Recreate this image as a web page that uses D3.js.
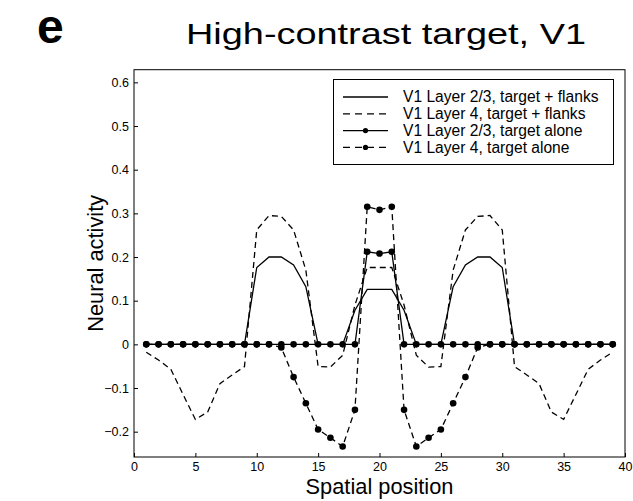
<!DOCTYPE html>
<html>
<head>
<meta charset="utf-8">
<script src="https://cdn.jsdelivr.net/npm/d3@7"></script>
<style>
  html, body { margin: 0; padding: 0; background: #fff; }
  svg { display: block; }
  text { font-family: "Liberation Sans", Arial, Helvetica, sans-serif; fill: #000; }
</style>
</head>
<body>
<svg id="chart" width="633" height="501"></svg>
<script>
// Spatial positions 1..39
const positions = d3.range(1, 40);

// V1 Layer 2/3, target + flanks
const l23Flanks = [
  0, 0, 0, 0, 0, 0, 0, 0, 0,
  0.176, 0.200, 0.200, 0.182, 0.132, 0, 0, 0,
  0.078, 0.126, 0.126, 0.126, 0.078,
  0, 0, 0,
  0.132, 0.182, 0.200, 0.200, 0.176,
  0, 0, 0, 0, 0, 0, 0, 0, 0
];

// V1 Layer 4, target + flanks
const l4Flanks = [
  -0.018, -0.036, -0.057, -0.115, -0.172, -0.155, -0.090, -0.070, -0.051,
  0.262, 0.295, 0.293, 0.262, 0.170,
  -0.051, -0.052, -0.025,
  0.090, 0.176, 0.176, 0.176, 0.090,
  -0.025, -0.052, -0.051,
  0.170, 0.262, 0.293, 0.295, 0.262,
  -0.051, -0.070, -0.090, -0.155, -0.172, -0.115, -0.057, -0.036, -0.018
];

// V1 Layer 2/3, target alone
const l23Alone = [
  0, 0, 0, 0, 0, 0, 0, 0, 0, 0, 0, 0, 0, 0, 0, 0, 0, 0,
  0.212, 0.208, 0.212,
  0, 0, 0, 0, 0, 0, 0, 0, 0, 0, 0, 0, 0, 0, 0, 0, 0, 0
];

// V1 Layer 4, target alone
const l4Alone = [
  0, 0, 0, 0, 0, 0, 0, 0, 0, 0, 0,
  -0.007, -0.075, -0.135, -0.195, -0.214, -0.234, -0.150,
  0.315, 0.308, 0.315,
  -0.150, -0.234, -0.214, -0.195, -0.135, -0.075, -0.007,
  0, 0, 0, 0, 0, 0, 0, 0, 0, 0, 0
];

const xTicks = [0, 5, 10, 15, 20, 25, 30, 35, 40];
const yTicks = [-0.2, -0.1, 0, 0.1, 0.2, 0.3, 0.4, 0.5, 0.6];

const seriesNames = [
  "V1 Layer 2/3, target + flanks",
  "V1 Layer 4, target + flanks",
  "V1 Layer 2/3, target alone",
  "V1 Layer 4, target alone"
];

const panelLetter = "e";
const titleText = "High-contrast target, V1";
const xLabel = "Spatial position";
const yLabel = "Neural activity";

// ---- layout ----
const plot = { left: 134, right: 625, top: 69.7, bottom: 457 };

const x = d3.scaleLinear().domain([0, 40]).range([plot.left, plot.right]);
const y = d3.scaleLinear().domain([-0.258, 0.629]).range([plot.bottom, plot.top]);

const svg = d3.select("#chart");

const dash = "6,4";
const styles = [
  { dash: null, marker: false },
  { dash: dash, marker: false },
  { dash: null, marker: true },
  { dash: dash, marker: true }
];
const data = [l23Flanks, l4Flanks, l23Alone, l4Alone];

// panel letter and title
svg.append("text")
  .attr("x", 37).attr("y", 43)
  .attr("font-size", 48).attr("font-weight", "bold")
  .text(panelLetter);

svg.append("text")
  .attr("x", 186).attr("y", 44)
  .attr("font-size", 30)
  .attr("textLength", 400).attr("lengthAdjust", "spacingAndGlyphs")
  .text(titleText);

// axes
const fmt = d => d === 0 ? "0" : (d < 0 ? "\u2212" + d3.format(".1f")(-d) : d3.format(".1f")(d));

const xAxis = d3.axisBottom(x).tickValues(xTicks).tickSize(-4).tickPadding(0).tickFormat(d3.format("d"));
const yAxis = d3.axisLeft(y).tickValues(yTicks).tickSize(-4).tickPadding(5).tickFormat(fmt);

const gx = svg.append("g").attr("transform", `translate(0,${plot.bottom})`).call(xAxis);
const gy = svg.append("g").attr("transform", `translate(${plot.left},0)`).call(yAxis);
[gx, gy].forEach(g => {
  g.attr("font-size", 12.5).attr("font-family", "Liberation Sans, Arial, sans-serif");
  g.select(".domain").remove();
  g.selectAll(".tick line").attr("stroke", "#000").attr("stroke-width", 1);
  g.selectAll(".tick text").attr("font-size", 12.5).attr("fill", "#000");
});
gx.selectAll(".tick text").attr("y", 14).attr("dy", 0);

// frame
svg.append("rect")
  .attr("x", plot.left).attr("y", plot.top)
  .attr("width", plot.right - plot.left).attr("height", plot.bottom - plot.top)
  .attr("fill", "none").attr("stroke", "#000").attr("stroke-width", 1);

// axis labels
svg.append("text")
  .attr("x", (plot.left + plot.right) / 2).attr("y", 494)
  .attr("text-anchor", "middle").attr("font-size", 21.8)
  .text(xLabel);

svg.append("text")
  .attr("transform", `translate(103,${(plot.top + plot.bottom) / 2}) rotate(-90)`)
  .attr("text-anchor", "middle").attr("font-size", 21.8)
  .text(yLabel);

// series
const line = d3.line().x((d, i) => x(positions[i])).y(d => y(d));
const gLines = svg.append("g");
data.forEach((vals, k) => {
  const st = styles[k];
  gLines.append("path")
    .datum(vals)
    .attr("d", line)
    .attr("fill", "none").attr("stroke", "#000").attr("stroke-width", 1.3)
    .attr("stroke-dasharray", st.dash);
  if (st.marker) {
    gLines.selectAll(null).data(vals).enter().append("circle")
      .attr("cx", (d, i) => x(positions[i])).attr("cy", d => y(d))
      .attr("r", 3.3).attr("fill", "#000");
  }
});

// legend
const lg = { x: 333.5, y: 79.5, w: 280, h: 85, rowY: 97, rowH: 16.8 };
const legend = svg.append("g");
legend.append("rect")
  .attr("x", lg.x).attr("y", lg.y).attr("width", lg.w).attr("height", lg.h)
  .attr("fill", "#fff").attr("stroke", "#000").attr("stroke-width", 1);
seriesNames.forEach((name, k) => {
  const st = styles[k];
  const cy = lg.rowY + k * lg.rowH;
  legend.append("line")
    .attr("x1", 343).attr("x2", 388).attr("y1", cy).attr("y2", cy)
    .attr("stroke", "#000").attr("stroke-width", 1.3)
    .attr("stroke-dasharray", st.dash ? "7,5" : null);
  if (st.marker) {
    legend.append("circle").attr("cx", 365.5).attr("cy", cy).attr("r", 2.6).attr("fill", "#000");
  }
  legend.append("text")
    .attr("x", 403).attr("y", cy).attr("dy", "0.35em")
    .attr("font-size", 15.6)
    .text(name);
});
</script>
</body>
</html>
